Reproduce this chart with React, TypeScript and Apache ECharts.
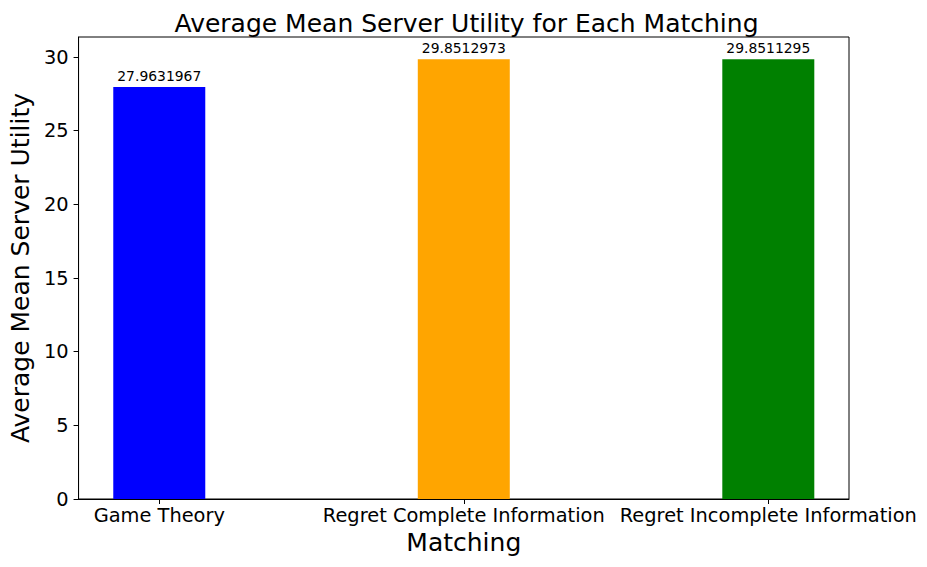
import React, { useEffect, useRef } from "react";
import * as echarts from "echarts";

const categories = ["Game Theory", "Regret Complete Information", "Regret Incomplete Information"];
const values = [27.9631967, 29.8512973, 29.8511295];
const barColors = ["#0000ff", "#ffa500", "#008000"];
const yTicks = [0, 5, 10, 15, 20, 25, 30];
const xTicks = [0, 1, 2];

export default function App() {
  const ref = useRef<HTMLDivElement>(null);
  useEffect(() => {
    if (!ref.current) return;
    const chart = echarts.init(ref.current, null, { renderer: "svg" });
    const font = "DejaVu Sans";
    chart.setOption({
      animation: false,
      backgroundColor: "#ffffff",
      textStyle: { fontFamily: font, color: "#000" },
      title: {
        text: "Average Mean Server Utility for Each Matching",
        left: 461.5,
        textAlign: "center",
        top: 6,
        textStyle: { fontFamily: font, fontSize: 25, fontWeight: "normal", color: "#000" },
      },
      grid: {
        left: 74,
        right: 78,
        top: 37,
        bottom: 68,
        show: true,
        borderColor: "#000",
        borderWidth: 1,
        backgroundColor: "transparent",
      },
      xAxis: {
        type: "value",
        min: -0.265,
        max: 2.265,
        name: "Matching",
        nameLocation: "middle",
        nameGap: 31,
        nameTextStyle: { fontFamily: font, fontSize: 25, color: "#000" },
        axisLine: { show: true, onZero: false, lineStyle: { color: "#000", width: 1 } },
        axisTick: { show: true, length: 5, inside: false, customValues: xTicks, lineStyle: { color: "#000" } },
        axisLabel: {
          customValues: xTicks,
          formatter: (v: number) => categories[Math.round(v)],
          fontFamily: font,
          fontSize: 19.4,
          color: "#000",
          margin: 7,
        },
        splitLine: { show: false },
      },
      yAxis: {
        type: "value",
        min: 0,
        max: 31.36,
        name: "Average Mean Server Utility",
        nameLocation: "middle",
        nameGap: 40,
        nameTextStyle: { fontFamily: font, fontSize: 25, color: "#000" },
        axisLine: { show: true, onZero: false, lineStyle: { color: "#000", width: 1 } },
        axisTick: { show: true, length: 5, inside: false, customValues: yTicks, lineStyle: { color: "#000" } },
        axisLabel: {
          customValues: yTicks,
          fontFamily: font,
          fontSize: 19.4,
          color: "#000",
          margin: 10,
        },
        splitLine: { show: false },
      },
      series: [
        {
          type: "bar",
          barWidth: 92,
          data: values.map((v, i) => ({
            value: [xTicks[i], v],
            itemStyle: { color: barColors[i] },
          })),
          label: {
            show: true,
            position: "top",
            distance: 4,
            fontFamily: font,
            fontSize: 13.9,
            color: "#000",
            formatter: (p: any) => String(p.value[1]),
          },
        },
      ],
    });
    return () => chart.dispose();
  }, []);
  return (
    <div
      ref={ref}
      style={{ position: "fixed", left: 0, top: 0, width: 927, height: 567 }}
    />
  );
}
